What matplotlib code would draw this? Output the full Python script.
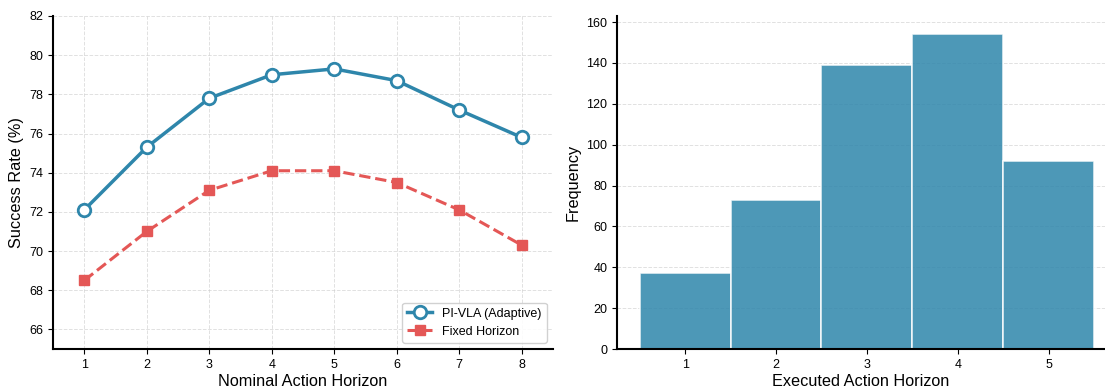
import matplotlib.pyplot as plt
import numpy as np

plt.rcParams['font.family'] = ['Liberation Sans', 'DejaVu Sans']

# data
horizons = [1, 2, 3, 4, 5, 6, 7, 8]
adaptive = [72.1, 75.3, 77.8, 79.0, 79.3, 78.7, 77.2, 75.8]
fixed = [68.5, 71.0, 73.1, 74.1, 74.1, 73.5, 72.1, 70.3]

executed = [1, 2, 3, 4, 5]
counts = [37, 73, 139, 154, 92]

blue = '#2E86AB'
red = '#E45756'

fig = plt.figure(figsize=(11.05, 3.87), dpi=100)
ax1 = fig.add_axes([53/1105, 1 - 349/387, 500/1105, 333/387])
ax2 = fig.add_axes([617/1105, 1 - 349/387, 488/1105, 333/387])

# left: success rate vs nominal horizon
ax1.plot(horizons, adaptive, '-o', color=blue, lw=2.5, markersize=9,
         markerfacecolor='white', markeredgewidth=2, label='PI-VLA (Adaptive)')
ax1.plot(horizons, fixed, '--s', color=red, lw=2.2, markersize=7,
         label='Fixed Horizon')
ax1.set_xlim(0.5, 8.5)
ax1.set_ylim(65, 82)
ax1.set_xticks(horizons)
ax1.set_yticks(np.arange(66, 83, 2))
ax1.set_xlabel('Nominal Action Horizon', fontsize=11.7, labelpad=2)
ax1.set_ylabel('Success Rate (%)', fontsize=11.7)
ax1.grid(True, ls='--', alpha=0.6, color='#cccccc', lw=0.7)
ax1.legend(loc='lower right', fontsize=9, framealpha=0.9, edgecolor='#cccccc')

# right: histogram of executed horizon
ax2.bar(executed, counts, width=1.0, color=blue, alpha=0.85,
        edgecolor='white', linewidth=1.2)
ax2.set_xlim(0.25, 5.62)
ax2.set_ylim(0, 163)
ax2.set_xticks(executed)
ax2.set_yticks(np.arange(0, 161, 20))
ax2.set_xlabel('Executed Action Horizon', fontsize=11.7, labelpad=2)
ax2.set_ylabel('Frequency', fontsize=11.7)
ax2.grid(True, axis='y', ls='--', alpha=0.6, color='#cccccc', lw=0.7)
ax2.set_axisbelow(True)

for ax in (ax1, ax2):
    ax.spines['top'].set_visible(False)
    ax.spines['right'].set_visible(False)
    ax.spines['left'].set_linewidth(1.5)
    ax.spines['bottom'].set_linewidth(1.5)
    ax.tick_params(labelsize=9)

fig.savefig('out.png', dpi=100)
